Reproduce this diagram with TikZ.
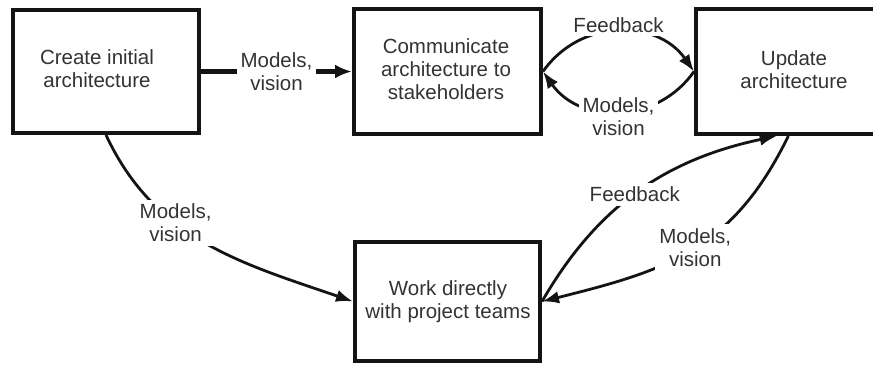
\documentclass[tikz,border=0pt]{standalone}
\usepackage{fontspec}
\setmainfont{Liberation Sans}
\usetikzlibrary{arrows.meta}
\definecolor{ink}{HTML}{141414}
\definecolor{txtgray}{HTML}{333333}
\begin{document}
\begin{tikzpicture}[x=1pt,y=1pt,
  every node/.style={font=\fontsize{20.5}{23}\selectfont},
  boxnode/.style={draw=ink, line width=4pt, inner sep=0pt, rectangle},
  boxtext/.style={text=txtgray, align=center, inner sep=0pt},
  lbl/.style={text=txtgray, align=center, fill=white, inner sep=4pt},
  flow/.style={draw=ink, line width=2.8pt, -{Latex[length=17pt,width=12.5pt]}},
  mainflow/.style={draw=ink, line width=4.5pt, -{Latex[length=17pt,width=14pt]}}
]
\useasboundingbox (0,0) rectangle (873,366);
\begin{scope}
\clip (0,0) rectangle (873,366);

% process boxes
\node[boxnode, minimum width=186pt, minimum height=123pt] (b1) at (106,294.5) {};
\node[boxnode, minimum width=187pt, minimum height=125pt] (b2) at (447.5,294.5) {};
\node[boxnode, minimum width=196pt, minimum height=125pt] (b3) at (794,294.5) {};
\node[boxnode, minimum width=185pt, minimum height=119pt] (b4) at (447.5,64.5) {};

% box captions
\node[boxtext] (t1) at (97,297) {Create initial\\architecture};
\node[boxtext] (t2) at (446,297) {Communicate\\architecture to\\stakeholders};
\node[boxtext] (t3) at (794,296) {Update\\architecture};
\node[boxtext] (t4) at (448,64) {Work directly\\with project teams};

% straight hand-off
\draw[mainflow] (b1.east) -- node[lbl] (l1) {Models,\\vision} (b2.west);

% feedback loop between communication and update
\draw[flow] (b2.east) to[out=55,in=125,looseness=1.1]
  node[lbl, pos=0.5, yshift=7pt] (l2) {Feedback} (b3.west);
\draw[flow] (b3.west) to[out=-125,in=-55,looseness=1.1]
  node[lbl, pos=0.5, yshift=-5pt] (l3) {Models,\\vision} (b2.east);

% direct work with teams
\draw[flow] (b1.south) to[out=-65,in=161]
  node[lbl, pos=0.37] (l4) {Models,\\vision} (b4.west);
\draw[flow] (b4.east) to[out=60,in=-168]
  node[lbl, pos=0.48] (l5) {Feedback} (b3.-105);
\draw[flow] (b3.-95) to[out=-116,in=14,looseness=1.1]
  node[lbl, pos=0.48] (l6) {Models,\\vision} (b4.east);
\end{scope}
\end{tikzpicture}
\end{document}
